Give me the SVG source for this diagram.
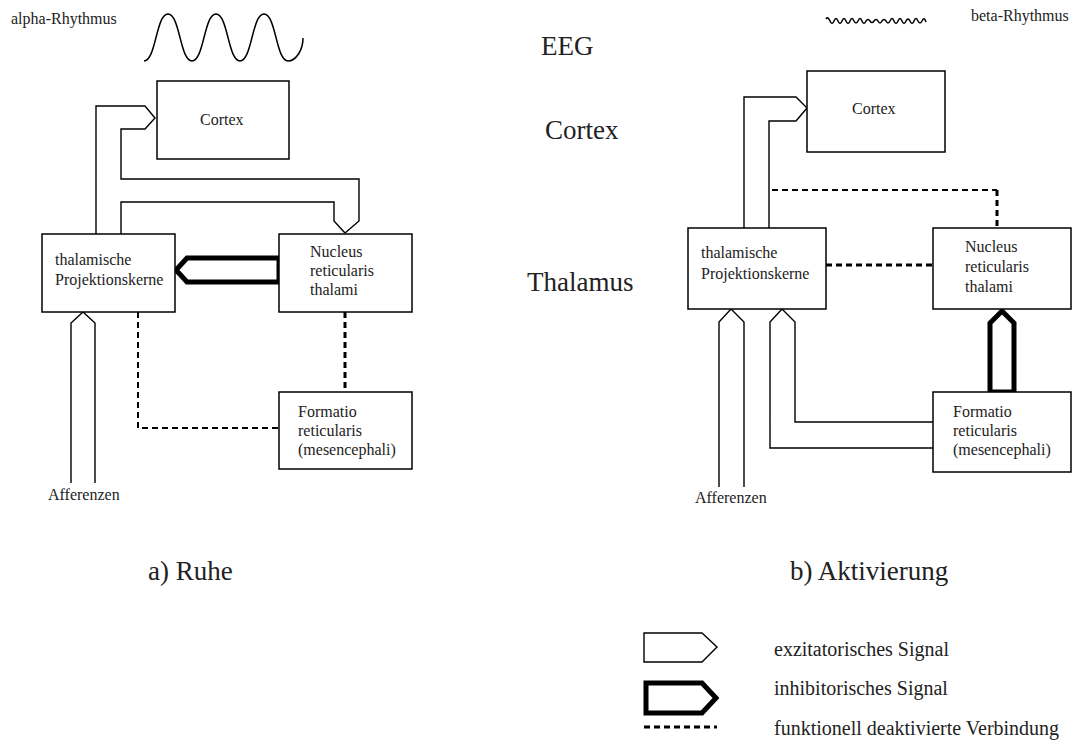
<svg xmlns="http://www.w3.org/2000/svg" width="1075" height="753" viewBox="0 0 1075 753">
<style>
text{font-family:"Liberation Serif","Times New Roman",serif;fill:#222}
.s{font-size:16px}
.b{font-size:27px}
.l{font-size:20px}
.box{fill:#fff;stroke:#000;stroke-width:1.5}
.exc{fill:none;stroke:#000;stroke-width:1.4;stroke-linejoin:miter}
.inh{fill:none;stroke:#000;stroke-width:5;stroke-linejoin:miter}
.dash{fill:none;stroke:#000;stroke-width:2;stroke-dasharray:6 4}
.dashb{fill:none;stroke:#000;stroke-width:3;stroke-dasharray:6 4}
.wave{fill:none;stroke:#000;stroke-width:1.5}
</style>
<rect width="1075" height="753" fill="#fff"/>
<g id="labels">
<text class="s" x="11" y="24">alpha-Rhythmus</text>
<text class="s" x="971" y="21">beta-Rhythmus</text>
<text class="b" x="541" y="55">EEG</text>
<text class="b" x="545" y="139">Cortex</text>
<text class="b" x="527" y="291">Thalamus</text>
<text class="b" x="148" y="580">a) Ruhe</text>
<text class="b" x="790" y="580">b) Aktivierung</text>
<text class="s" x="48" y="500">Afferenzen</text>
<text class="s" x="695" y="503">Afferenzen</text>
</g>
<g id="waves">
<path class="wave" d="M144,61 C156,61 156,14 168,14 C180,14 180,61 192,61 C204,61 204,14 216,14 C228,14 228,61 240,61 C252,61 252,14 264,14 C276,14 276,61 288,61 C296,61 303,50 303,38"/>
<path class="wave" d="M826,19 q2,-3 4,2 q2,5 4,0 q2,-5 4,0 q2,5 4,0 q2,-5 4,0 q2,5 4,0 q2,-5 4,0 q2,4 4,0 q2,-5 4,0 q2,5 4,0 q2,-3 4,0 q2,3 4,0 q2,-3 4,0 q2,4 4,0 q2,-3 4,0 q2,4 4,0 q2,-5 4,0 q2,5 4,0 q2,-5 4,0 q2,5 4,0 q2,-4 4,0 q2,5 4,0 q2,-5 4,0 q2,4 4,0 q2,-5 4,1"/>
</g>
<g id="connectors">
<polyline class="exc" points="96,234 96,106 145,106 155,118 145,129 121,129 121,179 359,179 359,221 345,233"/>
<polyline class="exc" points="121,234 121,202 334,202 334,221 345,233"/>
<polygon class="inh" points="279,258 187,258 176,270 187,282 279,282"/>
<polyline class="dash" points="138,312 138,428 279,428"/>
<polyline class="dashb" points="345,312 345,392"/>
<polyline class="exc" points="71,483 71,323 83,312 95,323 95,483"/>
<polyline class="exc" points="744,228 744,97 796,97 807,108 796,121 769,121 769,228"/>
<polyline class="dash" points="772,190 997,190"/>
<polyline class="dashb" points="997,190 997,228"/>
<polyline class="dashb" points="826,265 933,265"/>
<polygon class="inh" points="990,392 990,323 1002,311 1014,323 1014,392"/>
<polyline class="exc" points="719,487 719,322 731,309 744,322 744,487"/>
<polyline class="exc" points="933,448 770,448 770,322 782,309 795,322 795,422 933,422"/>
</g>
<g id="cortex-a"><rect class="box" x="157" y="81" width="132" height="78"/><text class="s" x="200" y="125">Cortex</text></g>
<g id="thal-a"><rect class="box" x="42" y="234" width="133" height="78"/><text class="s" x="55" y="265">thalamische</text><text class="s" x="55" y="285">Projektionskerne</text></g>
<g id="nrt-a"><rect class="box" x="279" y="234" width="133" height="78"/><text class="s" x="310" y="257">Nucleus</text><text class="s" x="310" y="276">reticularis</text><text class="s" x="310" y="295">thalami</text></g>
<g id="form-a"><rect class="box" x="279" y="392" width="133" height="77"/><text class="s" x="298" y="417">Formatio</text><text class="s" x="298" y="436">reticularis</text><text class="s" x="298" y="455">(mesencephali)</text></g>
<g id="cortex-b"><rect class="box" x="807" y="71" width="138" height="81"/><text class="s" x="852" y="114">Cortex</text></g>
<g id="thal-b"><rect class="box" x="688" y="228" width="138" height="81"/><text class="s" x="701" y="258">thalamische</text><text class="s" x="701" y="279">Projektionskerne</text></g>
<g id="nrt-b"><rect class="box" x="933" y="228" width="138" height="81"/><text class="s" x="965" y="252">Nucleus</text><text class="s" x="965" y="272">reticularis</text><text class="s" x="965" y="292">thalami</text></g>
<g id="form-b"><rect class="box" x="933" y="392" width="138" height="80"/><text class="s" x="953" y="417">Formatio</text><text class="s" x="953" y="436">reticularis</text><text class="s" x="953" y="455">(mesencephali)</text></g>
<g id="legend">
<polygon class="exc" points="644,633 702,633 717,647 702,662 644,662"/>
<text class="l" x="774" y="656">exzitatorisches Signal</text>
<polygon class="inh" points="646,683 702,683 716,698 702,713 646,713"/>
<text class="l" x="774" y="695">inhibitorisches Signal</text>
<polyline class="dashb" points="644,727 717,727"/>
<text class="l" x="774" y="735">funktionell deaktivierte Verbindung</text>
</g>
</svg>
